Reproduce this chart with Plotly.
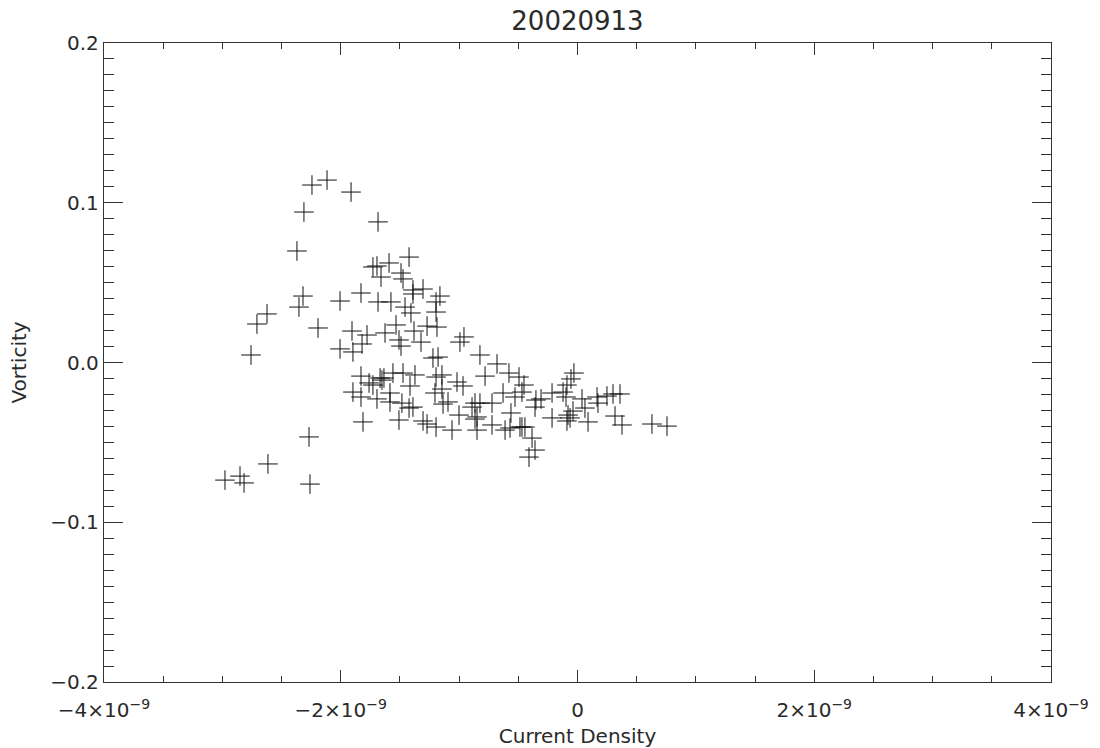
import plotly.graph_objects as go

# current density (units of 1e-9) and vorticity
current_e9 = [
    -2.243, -2.116, -1.913, -2.311, -1.685, -2.370, -1.423, -1.728, -1.694, -1.592,
    -1.660, -1.491, -1.474, -1.390, -1.305, -1.390, -1.162, -1.195, -2.319, -2.353,
    -2.006, -1.829, -1.685, -1.576, -1.457, -1.407, -1.195, -2.623, -2.708, -2.192,
    -1.905, -1.778, -1.626, -1.533, -1.381, -1.271, -1.187, -2.006, -1.897, -1.820,
    -1.508, -1.491, -1.322, -0.993, -0.959, -1.221, -1.178, -2.758, -1.829, -1.668,
    -1.652, -1.635, -1.728, -1.761, -1.559, -1.474, -1.373, -1.415, -1.195, -1.145,
    -1.204, -1.145, -1.897, -1.829, -1.694, -1.584, -1.584, -1.483, -1.423, -1.390,
    -1.508, -1.305, -1.271, -1.195, -1.812, -1.018, -0.967, -1.094, -1.136, -1.001,
    -0.891, -0.849, -1.060, -0.849, -0.824, -0.680, -0.579, -0.494, -0.452, -0.469,
    -0.528, -0.629, -0.781, -0.824, -0.722, -0.866, -0.722, -0.562, -0.570, -0.612,
    -0.469, -0.444, -0.486, -0.384, -0.359, -0.410, -0.351, -0.308, -0.359, -0.215,
    -0.122, -0.097, -0.089, -0.055, -0.030, -0.215, -0.089, -0.063, -0.080, -0.038,
    0.063, 0.038, 0.173, 0.165, 0.249, 0.300, 0.359, 0.089, 0.317, 0.376,
    0.629, 0.756, -2.268, -2.615, -2.978, -2.851, -2.817, -2.260, -0.866,
]
vorticity = [
    0.1111, 0.1142, 0.1067, 0.0942, 0.0880, 0.0698, 0.0660, 0.0598, 0.0604, 0.0623,
    0.0535, 0.0560, 0.0523, 0.0454, 0.0460, 0.0429, 0.0416, 0.0379, 0.0416, 0.0347,
    0.0385, 0.0435, 0.0379, 0.0379, 0.0347, 0.0310, 0.0316, 0.0304, 0.0241, 0.0216,
    0.0197, 0.0172, 0.0185, 0.0235, 0.0197, 0.0228, 0.0222, 0.0085, 0.0066, 0.0116,
    0.0141, 0.0103, 0.0128, 0.0128, 0.0160, 0.0028, 0.0034, 0.0047, -0.0085, -0.0097,
    -0.0110, -0.0097, -0.0141, -0.0128, -0.0066, -0.0066, -0.0078, -0.0147, -0.0091, -0.0078,
    -0.0191, -0.0166, -0.0185, -0.0216, -0.0228, -0.0191, -0.0247, -0.0254, -0.0285, -0.0279,
    -0.0360, -0.0366, -0.0385, -0.0404, -0.0372, -0.0122, -0.0147, -0.0247, -0.0260, -0.0329,
    -0.0279, -0.0341, -0.0423, -0.0423, 0.0047, -0.0009, -0.0066, -0.0091, -0.0141, -0.0185,
    -0.0216, -0.0191, -0.0085, -0.0254, -0.0254, -0.0354, -0.0391, -0.0316, -0.0410, -0.0423,
    -0.0404, -0.0404, -0.0404, -0.0473, -0.0548, -0.0592, -0.0235, -0.0228, -0.0279, -0.0191,
    -0.0185, -0.0216, -0.0141, -0.0103, -0.0066, -0.0347, -0.0366, -0.0347, -0.0329, -0.0304,
    -0.0285, -0.0228, -0.0254, -0.0216, -0.0210, -0.0197, -0.0197, -0.0372, -0.0335, -0.0391,
    -0.0385, -0.0398, -0.0466, -0.0635, -0.0736, -0.0711, -0.0754, -0.0761, -0.0254,
]

x_ticks = [-4e-9, -2e-9, 0, 2e-9, 4e-9]
x_ticktext = ["\u22124\u00d710<sup>\u22129</sup>", "\u22122\u00d710<sup>\u22129</sup>", "0",
              "2\u00d710<sup>\u22129</sup>", "4\u00d710<sup>\u22129</sup>"]
y_ticks = [-0.2, -0.1, 0.0, 0.1, 0.2]
y_ticktext = ["\u22120.2", "\u22120.1", "0.0", "0.1", "0.2"]

x_vals = [v * 1e-9 for v in current_e9]

FONT = dict(family="DejaVu Sans, sans-serif", size=20, color="#2a2a2a")
AXIS_COLOR = "#333333"

fig = go.Figure(go.Scatter(
    x=x_vals, y=vorticity, mode="markers",
    marker=dict(symbol="cross-thin-open", size=14, color="#111111",
                line=dict(color="#111111", width=1.0)),
    showlegend=False,
))

axis_common = dict(
    showgrid=False, zeroline=False, showline=True, linecolor=AXIS_COLOR,
    linewidth=1.3, mirror="allticks", ticks="inside", tickcolor=AXIS_COLOR,
    tickwidth=1.2, tickfont=FONT, automargin=False,
)

fig.update_xaxes(
    range=[-4e-9, 4e-9], tickvals=x_ticks, ticktext=x_ticktext, ticklen=12,
    ticklabelstandoff=10,
    minor=dict(dtick=0.5e-9, tick0=0, ticklen=6, ticks="inside",
               tickcolor=AXIS_COLOR, tickwidth=1.2),
    title=dict(text="Current Density", font=FONT, standoff=14),
    **axis_common,
)
fig.update_yaxes(
    range=[-0.2, 0.2], tickvals=y_ticks, ticktext=y_ticktext, ticklen=19,
    minor=dict(dtick=0.01, tick0=0, ticklen=10, ticks="inside",
               tickcolor=AXIS_COLOR, tickwidth=1.2),
    title=dict(text="Vorticity", font=FONT, standoff=18),
    **axis_common,
)

fig.update_layout(
    width=1100, height=748,
    margin=dict(l=104, r=49, t=43, b=66),
    paper_bgcolor="white", plot_bgcolor="white",
    title=dict(text="20020913", xref="paper", x=0.5, xanchor="center",
               y=0.972, yanchor="middle",
               font=dict(family=FONT["family"], size=26, color="#2a2a2a")),
)

# drop the default page margin so the figure fills the window exactly
fig.write_html("out.html", config={"displayModeBar": False},
               post_script="document.body.style.margin = '0';")
